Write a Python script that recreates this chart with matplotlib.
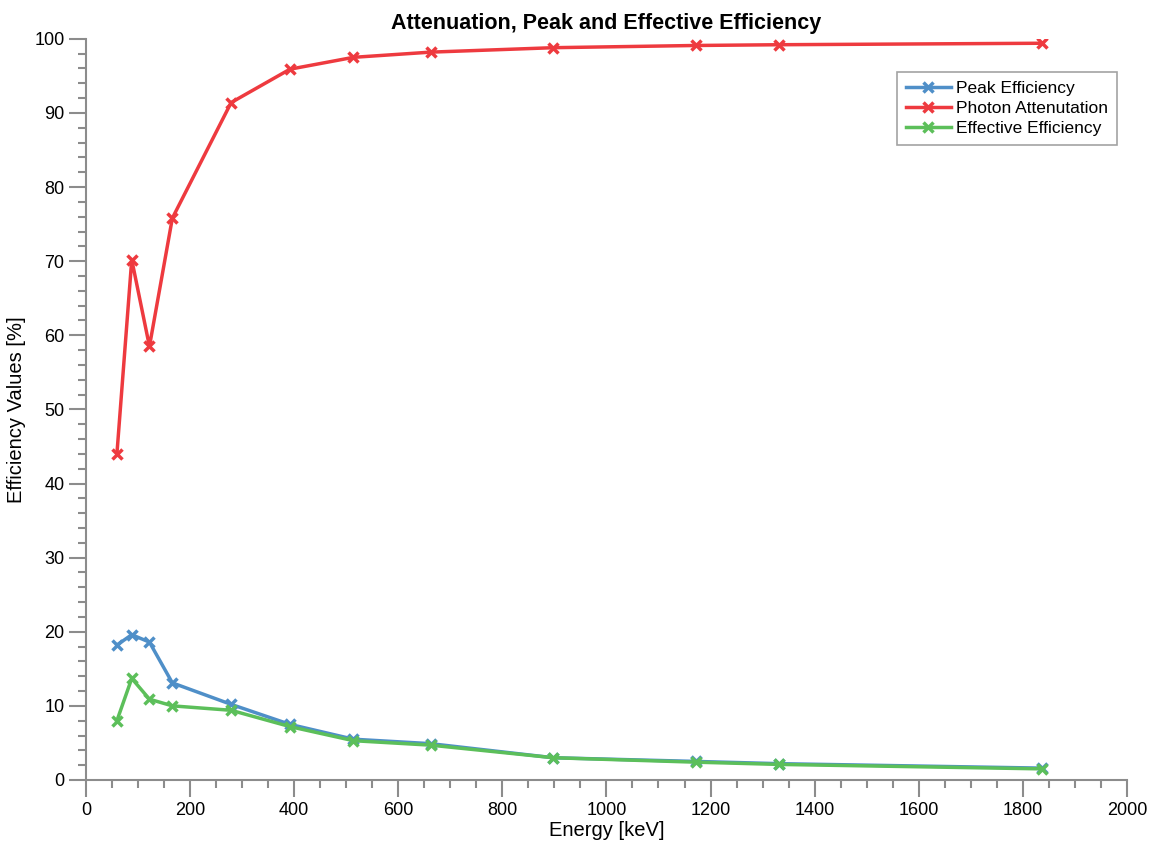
import matplotlib
matplotlib.use("Agg")
import matplotlib.pyplot as plt
from matplotlib.ticker import MultipleLocator

plt.rcParams['font.family'] = ['Liberation Sans', 'DejaVu Sans']

# gamma energies [keV]
energy = [59.5, 88, 122, 166, 279, 392, 514, 662, 898, 1173, 1332, 1836]
peak_eff = [18.2, 19.6, 18.6, 13.1, 10.2, 7.5, 5.5, 4.9, 3.0, 2.5, 2.2, 1.6]
attenuation = [44.0, 70.2, 58.5, 75.8, 91.4, 95.9, 97.5, 98.2, 98.8, 99.1, 99.2, 99.4]
effective_eff = [8.0, 13.7, 10.9, 10.0, 9.4, 7.2, 5.3, 4.7, 3.0, 2.4, 2.1, 1.5]

fig = plt.figure(figsize=(11.49, 8.49), dpi=100)
ax = fig.add_axes([0.0748, 0.0813, 0.906, 0.873])

ax.plot(energy, peak_eff, color='#4f8fc8', lw=2.5, marker='x', ms=7, mew=2.5,
        label='Peak Efficiency', zorder=3)
ax.plot(energy, attenuation, color='#ee3a3f', lw=2.5, marker='x', ms=7, mew=2.5,
        label='Photon Attenutation', zorder=3)
ax.plot(energy, effective_eff, color='#5cbf5a', lw=2.5, marker='x', ms=7, mew=2.5,
        label='Effective Efficiency', zorder=4)

ax.set_xlim(0, 2000)
ax.set_ylim(0, 100)
ax.xaxis.set_major_locator(MultipleLocator(200))
ax.xaxis.set_minor_locator(MultipleLocator(50))
ax.yaxis.set_major_locator(MultipleLocator(10))
ax.yaxis.set_minor_locator(MultipleLocator(2))

for s in ['top', 'right']:
    ax.spines[s].set_visible(False)
for s in ['left', 'bottom']:
    ax.spines[s].set_color('#8c8c8c')
    ax.spines[s].set_linewidth(1.5)
ax.tick_params(which='major', direction='out', length=12, width=1.5,
               color='#8c8c8c', labelsize=13)
ax.tick_params(which='minor', direction='out', length=6, width=1.5,
               color='#8c8c8c')

ax.set_xlabel('Energy [keV]', fontsize=14.5, labelpad=2)
ax.set_ylabel('Efficiency Values [%]', fontsize=14.5, labelpad=6)
ax.set_title('Attenuation, Peak and Effective Efficiency', fontsize=15.5,
             fontweight='bold', pad=7)

leg = ax.legend(loc='upper right', bbox_to_anchor=(0.9985, 0.967), fontsize=12.5,
                frameon=True, fancybox=False, handlelength=2.6,
                borderpad=0.5, labelspacing=0.3, handletextpad=0.3)
leg.get_frame().set_edgecolor('#8c8c8c')
leg.get_frame().set_linewidth(1.2)

fig.savefig('out.png', dpi=100)
